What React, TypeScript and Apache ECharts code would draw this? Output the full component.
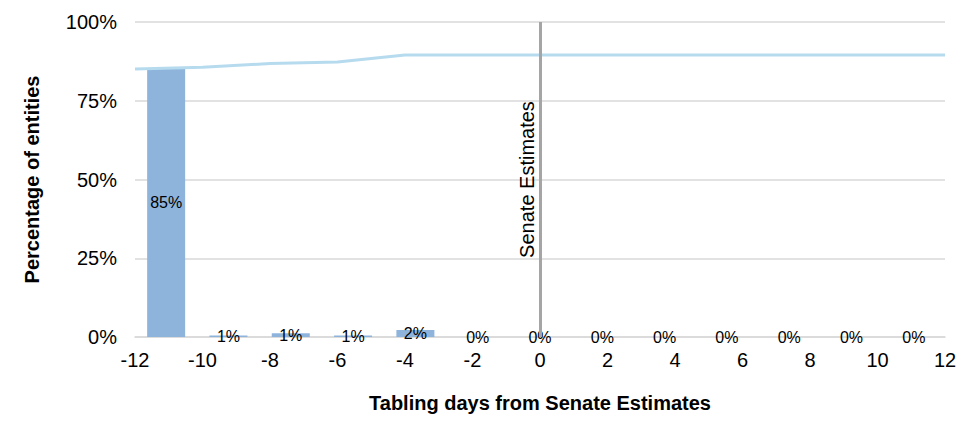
import React, { useEffect, useRef } from 'react';
import * as echarts from 'echarts';

// Tabling days relative to Senate Estimates (tick positions and bar categories)
const days = [-12, -10, -8, -6, -4, -2, 0, 2, 4, 6, 8, 10, 12];
// Share of entities tabling in each window (%)
const shareOfEntities = [85.1, 0.5, 1.2, 0.5, 2.2, 0, 0, 0, 0, 0, 0, 0, 0];
// Cumulative share (%)
const cumulativeShare = [85.1, 85.6, 86.8, 87.3, 89.5, 89.5, 89.5, 89.5, 89.5, 89.5, 89.5, 89.5, 89.5];
const yTicks = [0, 25, 50, 75, 100];
const estimatesDay = 0;

const FONT = '"Liberation Sans", Arial, sans-serif';

export default function App() {
  const chartRef = useRef<HTMLDivElement>(null);

  useEffect(() => {
    if (!chartRef.current) return;
    const chart = echarts.init(chartRef.current, undefined, { renderer: 'svg' });

    const option: echarts.EChartsOption = {
      animation: false,
      backgroundColor: '#fff',
      textStyle: { fontFamily: FONT },
      grid: { left: 135, right: 35, top: 22, bottom: 90 },
      xAxis: [
        {
          type: 'category',
          data: days.map(String),
          show: false,
          boundaryGap: true
        },
        {
          type: 'value',
          position: 'bottom',
          min: days[0],
          max: days[days.length - 1],
          interval: 2,
          name: 'Tabling days from Senate Estimates',
          nameLocation: 'middle',
          nameGap: 56,
          nameTextStyle: { fontFamily: FONT, fontSize: 20, fontWeight: 'bold', color: '#000' },
          axisLine: { show: true, onZero: false, lineStyle: { color: '#d9d9d9', width: 1.5 } },
          axisTick: { show: false },
          axisLabel: { fontFamily: FONT, fontSize: 20, color: '#000', margin: 13 },
          splitLine: { show: false }
        }
      ],
      yAxis: {
        type: 'value',
        min: yTicks[0],
        max: yTicks[yTicks.length - 1],
        interval: 25,
        name: 'Percentage of entities',
        nameLocation: 'middle',
        nameGap: 93,
        nameRotate: 90,
        nameTextStyle: { fontFamily: FONT, fontSize: 20, fontWeight: 'bold', color: '#000' },
        axisLine: { show: false },
        axisTick: { show: false },
        axisLabel: { fontFamily: FONT, fontSize: 20, color: '#000', margin: 18, formatter: '{value}%' },
        splitLine: { lineStyle: { color: '#d9d9d9', width: 1.5 } }
      },
      series: [
        {
          type: 'bar',
          xAxisIndex: 0,
          data: shareOfEntities,
          barWidth: 38,
          itemStyle: { color: '#8eb4dc' },
          label: {
            show: true,
            position: 'inside',
            fontFamily: FONT,
            fontSize: 16,
            color: '#000',
            formatter: (p: any) => `${Math.round(p.value)}%`
          },
          z: 2
        },
        {
          type: 'line',
          xAxisIndex: 1,
          data: days.map((d, i) => [d, cumulativeShare[i]]),
          showSymbol: false,
          lineStyle: { color: '#b7dbee', width: 3 },
          z: 3,
          markLine: {
            silent: true,
            symbol: 'none',
            z: 5,
            lineStyle: { color: '#a5a5a5', width: 3, type: 'solid' },
            label: {
              show: true,
              position: 'insideMiddleTop',
              formatter: 'Senate Estimates',
              fontFamily: FONT,
              fontSize: 20,
              color: '#000',
              distance: 3
            },
            data: [{ xAxis: estimatesDay }]
          }
        }
      ]
    };

    chart.setOption(option);
    return () => chart.dispose();
  }, []);

  return (
    <div
      ref={chartRef}
      style={{ position: 'absolute', left: 0, top: 0, width: 980, height: 427 }}
    />
  );
}
